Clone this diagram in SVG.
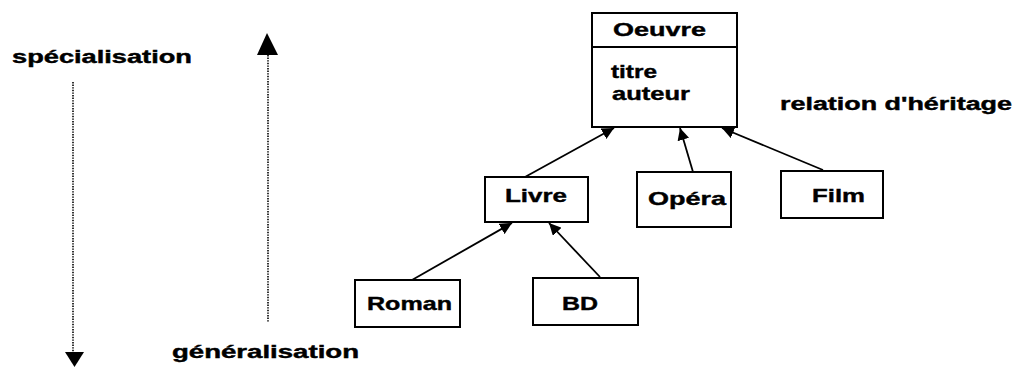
<svg xmlns="http://www.w3.org/2000/svg" width="1021" height="367" viewBox="0 0 1021 367">
<style>
.box{fill:#fff;stroke:#000;stroke-width:2}
.t{font-family:"Liberation Sans",Arial,sans-serif;font-weight:bold;font-size:18.5px;fill:#000;stroke:#000;stroke-width:0.4}
.lbl{font-family:"Liberation Sans",Arial,sans-serif;font-weight:bold;font-size:17.5px;fill:#000;stroke:#000;stroke-width:0.4}
.con{stroke:#000;stroke-width:1.8;fill:none}
.dot{stroke:#000;stroke-width:1.6;stroke-dasharray:1.4 1.2;fill:none}
</style>
<defs>
<marker id="ah" viewBox="0 0 12 12" refX="12" refY="6" markerWidth="12" markerHeight="12" markerUnits="userSpaceOnUse" orient="auto">
<path d="M0,0 L12,6 L0,12 z" fill="#000"/>
</marker>
</defs>
<rect width="1021" height="367" fill="#fff"/>
<g id="axes">
<text class="lbl" x="12" y="63" textLength="180" lengthAdjust="spacingAndGlyphs">spécialisation</text>
<line class="dot" x1="73" y1="82" x2="73" y2="353"/>
<polygon points="65,352 84,352 74.5,367" fill="#000"/>
<line class="dot" x1="268" y1="55" x2="268" y2="322"/>
<polygon points="257,55 278,55 267,33" fill="#000"/>
<text class="lbl" x="172" y="358" textLength="187" lengthAdjust="spacingAndGlyphs">généralisation</text>
<text class="lbl" x="780" y="110" textLength="232" lengthAdjust="spacingAndGlyphs">relation d'héritage</text>
</g>
<g id="connectors">
<line class="con" x1="525" y1="177" x2="614" y2="128" marker-end="url(#ah)"/>
<line class="con" x1="693" y1="172" x2="680" y2="128" marker-end="url(#ah)"/>
<line class="con" x1="823" y1="170" x2="722" y2="128" marker-end="url(#ah)"/>
<line class="con" x1="412" y1="280" x2="512" y2="223" marker-end="url(#ah)"/>
<line class="con" x1="600" y1="277" x2="549" y2="223" marker-end="url(#ah)"/>
</g>
<g id="oeuvre">
<rect class="box" x="592" y="13" width="145" height="114"/>
<line x1="592" y1="47" x2="737" y2="47" stroke="#000" stroke-width="2"/>
<text class="t" x="613" y="36" textLength="93" lengthAdjust="spacingAndGlyphs">Oeuvre</text>
<text class="t" x="611" y="78" textLength="46" lengthAdjust="spacingAndGlyphs">titre</text>
<text class="t" x="612" y="100" textLength="78" lengthAdjust="spacingAndGlyphs">auteur</text>
</g>
<g id="livre">
<rect class="box" x="485" y="177" width="103" height="45"/>
<text class="t" x="505" y="202" textLength="62" lengthAdjust="spacingAndGlyphs">Livre</text>
</g>
<g id="opera">
<rect class="box" x="637" y="172" width="94" height="55"/>
<text class="t" x="648" y="205" textLength="78" lengthAdjust="spacingAndGlyphs">Opéra</text>
</g>
<g id="film">
<rect class="box" x="781" y="171" width="102" height="47"/>
<text class="t" x="812" y="202" textLength="53" lengthAdjust="spacingAndGlyphs">Film</text>
</g>
<g id="roman">
<rect class="box" x="355" y="280" width="105" height="47"/>
<text class="t" x="367" y="310" textLength="85" lengthAdjust="spacingAndGlyphs">Roman</text>
</g>
<g id="bd">
<rect class="box" x="533" y="278" width="105" height="47"/>
<text class="t" x="562" y="310" textLength="36" lengthAdjust="spacingAndGlyphs">BD</text>
</g>
</svg>
